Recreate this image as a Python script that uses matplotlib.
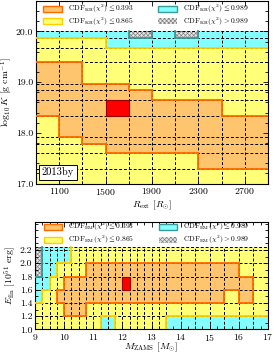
import numpy as np
import matplotlib
matplotlib.use("Agg")
import matplotlib.pyplot as plt
from matplotlib.colors import ListedColormap, BoundaryNorm
from matplotlib.patches import Rectangle
from matplotlib.collections import LineCollection
from matplotlib.ticker import FixedLocator, MultipleLocator

plt.rcParams['font.family'] = 'serif'
plt.rcParams['font.serif'] = ['cmr10', 'DejaVu Serif']
plt.rcParams['mathtext.fontset'] = 'cm'
plt.rcParams['axes.formatter.use_mathtext'] = True
plt.rcParams['hatch.linewidth'] = 0.5

# ---------------- data ----------------
# top panel: KR fit, R_ext vs log10 K
r_ext_edges = [900, 1100, 1300, 1500, 1700, 1900, 2100, 2300, 2500, 2700, 2900]
logk_edges = [17.0, 17.29, 17.61, 17.79, 17.925, 18.33, 18.65, 18.84, 18.97,
              19.39, 19.68, 19.87, 20.0]
# 0: CDF<=0.393, 1: <=0.865, 2: <=0.989, 3: >0.989 ; rows bottom -> top
kr_cat = [
    [1, 1, 1, 1, 1, 1, 1, 1, 1, 1],
    [1, 1, 1, 1, 1, 1, 1, 0, 0, 0],
    [1, 1, 1, 0, 0, 0, 0, 0, 0, 0],
    [1, 1, 0, 0, 0, 0, 0, 0, 0, 0],
    [1, 0, 0, 0, 0, 0, 0, 0, 0, 0],
    [0, 0, 0, 0, 0, 0, 0, 0, 1, 1],
    [0, 0, 0, 0, 0, 1, 1, 1, 1, 1],
    [0, 0, 0, 0, 1, 1, 1, 1, 1, 1],
    [0, 0, 1, 1, 1, 1, 1, 1, 1, 1],
    [1, 1, 1, 1, 1, 1, 1, 1, 1, 1],
    [1, 1, 1, 2, 2, 2, 2, 2, 2, 2],
    [2, 2, 2, 2, 3, 2, 3, 2, 2, 2],
]
kr_best = (5, 3)  # (row, col)

# bottom panel: EM fit, M_ZAMS vs E_fin
m_edges = [9.0, 9.25, 9.5, 9.75, 10.0, 10.25, 10.5, 10.75, 11.0, 11.25, 11.5,
           11.75, 12.0, 12.25, 12.5, 12.75, 13.0, 13.25, 13.5, 14.0, 14.5,
           15.0, 15.5, 16.0, 16.5, 17.0]
e_edges = [1.0, 1.2, 1.4, 1.6, 1.8, 2.0, 2.2, 2.25]
em_cat = [
    [1, 1, 1, 1, 1, 1, 1, 1, 1, 2, 2, 1, 1, 1, 1, 1, 1, 1, 2, 2, 2, 2, 2, 2, 2],
    [1, 1, 1, 1, 0, 0, 0, 1, 1, 1, 1, 1, 1, 1, 1, 1, 1, 1, 1, 1, 1, 1, 1, 1, 1],
    [2, 1, 1, 0, 0, 0, 0, 0, 0, 0, 0, 0, 0, 0, 0, 0, 0, 0, 0, 0, 0, 0, 1, 0, 1],
    [2, 2, 1, 1, 0, 0, 0, 0, 0, 0, 0, 0, 0, 0, 0, 0, 0, 0, 0, 0, 0, 0, 0, 0, 1],
    [3, 2, 2, 1, 1, 1, 1, 0, 0, 0, 0, 0, 0, 0, 0, 0, 0, 0, 0, 0, 0, 0, 0, 1, 1],
    [3, 2, 2, 2, 2, 1, 1, 1, 1, 1, 1, 1, 1, 1, 1, 1, 1, 1, 1, 1, 1, 1, 1, 1, 1],
    [3, 2, 2, 2, 2, 1, 1, 1, 1, 1, 1, 1, 1, 1, 1, 1, 1, 1, 1, 1, 1, 1, 1, 1, 1],
]
em_best = (3, 12)

levels = ['0.393', '0.865', '0.989']

# ---------------- styling ----------------
fill_cols = ['#FFC46E', '#FFFF78', '#84FFFF', '#FFFFFF']
edge_cols = ['#FF6A00', '#FFD000', '#3A9A9A', '#888888']
HATCH = 'xxxxxxxx'
cmap = ListedColormap(fill_cols)
norm = BoundaryNorm([-0.5, 0.5, 1.5, 2.5, 3.5], cmap.N)


def draw_panel(ax, xe, ye, cat, best, xlim, ylim):
    xe = np.asarray(xe, float)
    ye = np.asarray(ye, float)
    c = np.asarray(cat)
    ax.pcolormesh(xe, ye, c, cmap=cmap, norm=norm, zorder=1)
    for r in range(c.shape[0]):
        for k in range(c.shape[1]):
            if c[r, k] == 3:
                ax.add_patch(Rectangle((xe[k], ye[r]), xe[k + 1] - xe[k],
                                       ye[r + 1] - ye[r], fc='#e8e8e8',
                                       ec='#808080', hatch=HATCH, lw=0,
                                       zorder=1.5))
    ax.hlines(ye[1:], xe[0], xe[-1], colors='black', linestyles=(0, (3, 2)),
              lw=0.7, zorder=2)
    ax.vlines(xe[1:-1], ye[0], ye[-1], colors='black', linestyles=(0, (3, 2)),
              lw=0.7, zorder=2)
    segs, cols = [], []
    for r in range(c.shape[0]):
        for k in range(c.shape[1]):
            if k + 1 < c.shape[1] and c[r, k] != c[r, k + 1]:
                segs.append([(xe[k + 1], ye[r]), (xe[k + 1], ye[r + 1])])
                cols.append(edge_cols[min(c[r, k], c[r, k + 1])])
            if r + 1 < c.shape[0] and c[r, k] != c[r + 1, k]:
                segs.append([(xe[k], ye[r + 1]), (xe[k + 1], ye[r + 1])])
                cols.append(edge_cols[min(c[r, k], c[r + 1, k])])
    ax.add_collection(LineCollection(segs, colors=cols, lw=1.3, zorder=3,
                                     capstyle='projecting'))
    br, bc = best
    ax.add_patch(Rectangle((xe[bc], ye[br]), xe[bc + 1] - xe[bc],
                           ye[br + 1] - ye[br], fc='#FF0000', ec='#990000',
                           lw=0.8, zorder=3.5))
    ax.set_xlim(*xlim)
    ax.set_ylim(*ylim)
    ax.tick_params(which='both', direction='in', top=True, right=True,
                   labelsize=7, width=0.6, pad=2)
    ax.tick_params(which='major', length=3.5)
    ax.tick_params(which='minor', length=2)
    for s in ax.spines.values():
        s.set_linewidth(0.8)


def legend(ax, tag, rows_y, ph, col_x, pw, tx):
    """Manual 2x2 legend in axes coordinates."""
    labels = [r'CDF$_{\rm %s}(\chi^2)\leq %s$' % (tag, levels[0]),
              r'CDF$_{\rm %s}(\chi^2)\leq %s$' % (tag, levels[1]),
              r'CDF$_{\rm %s}(\chi^2)\leq %s$' % (tag, levels[2]),
              r'CDF$_{\rm %s}(\chi^2)>%s$' % (tag, levels[2])]
    for i in range(4):
        ci, ri = divmod(i, 2)
        x0 = col_x[ci]
        y0 = rows_y[ri]
        if i < 3:
            p = Rectangle((x0, y0 - ph / 2), pw, ph, transform=ax.transAxes,
                          fc=fill_cols[i], ec=edge_cols[i], lw=1.0, zorder=6,
                          clip_on=False)
        else:
            p = Rectangle((x0, y0 - ph / 2), pw, ph, transform=ax.transAxes,
                          fc='#e8e8e8', ec='#808080', hatch=HATCH, lw=0.0,
                          zorder=6, clip_on=False)
        ax.add_patch(p)
        ax.text(x0 + pw + tx, y0, labels[i], transform=ax.transAxes,
                fontsize=5.4, ha='left', va='center', zorder=6)


fig = plt.figure(figsize=(2.74, 3.53), dpi=100)

ax1 = fig.add_axes([0.131, 0.480, 0.847, 0.517])
draw_panel(ax1, r_ext_edges, logk_edges, kr_cat, kr_best, (900, 2900), (17.0, 20.6))
ax1.xaxis.set_major_locator(FixedLocator([1100, 1500, 1900, 2300, 2700]))
ax1.xaxis.set_minor_locator(FixedLocator(r_ext_edges))
ax1.yaxis.set_major_locator(FixedLocator([17.0, 18.0, 19.0, 20.0]))
ax1.yaxis.set_minor_locator(MultipleLocator(0.2))
ax1.set_yticklabels(['17.0', '18.0', '19.0', '20.0'])
ax1.set_xlabel(r'$R_{\rm ext}$ [$R_{\odot}$]', fontsize=7, labelpad=1)
ax1.set_ylabel(r'$\log_{10}K$ [g cm$^{-1}$]', fontsize=7, labelpad=1)
ax1.text(0.025, 0.035, '2013by', transform=ax1.transAxes, fontsize=7.5,
         ha='left', va='bottom', zorder=6,
         bbox=dict(boxstyle='square,pad=0.25', fc='white', ec='black', lw=0.7))
legend(ax1, 'KR', rows_y=[0.955, 0.889], ph=0.032, col_x=[0.030, 0.526],
       pw=0.082, tx=0.026)

ax2 = fig.add_axes([0.128, 0.067, 0.850, 0.305])
draw_panel(ax2, m_edges, e_edges, em_cat, em_best, (9, 17), (1.0, 2.63))
ax2.xaxis.set_major_locator(MultipleLocator(1))
ax2.xaxis.set_minor_locator(MultipleLocator(0.25))
ax2.yaxis.set_major_locator(FixedLocator([1.0, 1.2, 1.4, 1.6, 1.8, 2.0, 2.2]))
ax2.yaxis.set_minor_locator(MultipleLocator(0.1))
ax2.set_yticklabels(['1.0', '1.2', '1.4', '1.6', '1.8', '2.0', '2.2'])
ax2.set_xlabel(r'$M_{\rm ZAMS}$ [$M_{\odot}$]', fontsize=7, labelpad=-1.5)
ax2.set_ylabel(r'$E_{\rm fin}$ [$10^{51}$ erg]', fontsize=7, labelpad=1)
legend(ax2, 'EM', rows_y=[0.948, 0.834], ph=0.055, col_x=[0.039, 0.532],
       pw=0.077, tx=0.026)

fig.savefig('out.png', dpi=100)
